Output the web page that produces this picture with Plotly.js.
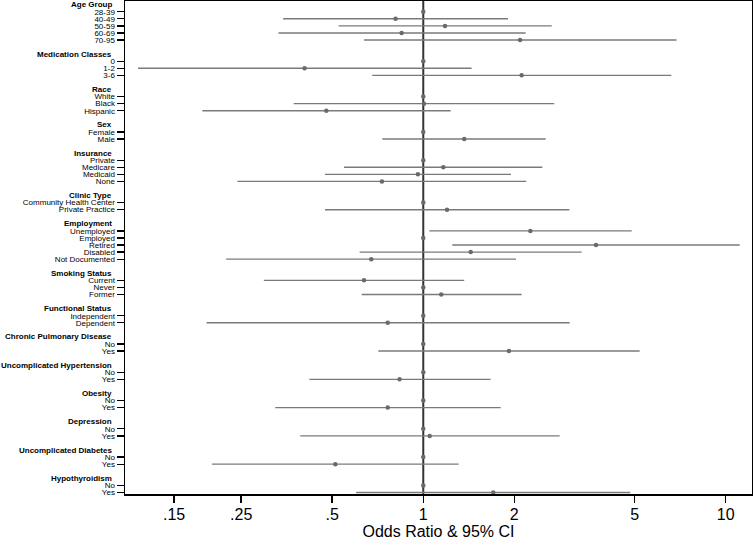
<!DOCTYPE html>
<html>
<head>
<meta charset="utf-8">
<script src="https://cdn.plot.ly/plotly-3.0.1.min.js"></script>
<style>html,body{margin:0;padding:0;background:#fff;}#chart{width:753px;height:543px;}</style>
</head>
<body>
<div id="chart"></div>
<script>
// ---- data ----
const groupNames = ["Age Group","Medication Classes","Race","Sex","Insurance","Clinic Type","Employment","Smoking Status","Functional Status","Chronic Pulmonary Disease","Uncomplicated Hypertension","Obesity","Depression","Uncomplicated Diabetes","Hypothyroidism"];
const groupSizes = [5,3,3,2,4,2,5,3,2,2,2,2,2,2,2];
const levelLabels = [
  "28-39","40-49","50-59","60-69","70-95",
  "0","1-2","3-6",
  "White","Black","Hispanic",
  "Female","Male",
  "Private","Medicare","Medicaid","None",
  "Community Health Center","Private Practice",
  "Unemployed","Employed","Retired","Disabled","Not Documented",
  "Current","Never","Former",
  "Independent","Dependent",
  "No","Yes",
  "No","Yes",
  "No","Yes",
  "No","Yes",
  "No","Yes",
  "No","Yes"
];
const oddsRatio = [
  1,0.81,1.18,0.848,2.09,
  1,0.405,2.115,
  1,1.005,0.478,
  1,1.366,
  1,1.165,0.96,0.73,
  1,1.198,
  2.26,1,3.725,1.435,0.673,
  0.637,1,1.147,
  1,0.763,
  1,1.92,
  1,0.835,
  1,0.763,
  1,1.05,
  1,0.512,
  1,1.704
];
const ciLower = [
  null,0.344,0.525,0.332,0.637,
  null,0.114,0.678,
  null,0.373,0.186,
  null,0.732,
  null,0.547,0.473,0.243,
  null,0.473,
  1.047,null,1.247,0.616,0.223,
  0.297,null,0.626,
  null,0.192,
  null,0.71,
  null,0.42,
  null,0.324,
  null,0.392,
  null,0.2,
  null,0.60
];
const ciUpper = [
  null,1.906,2.66,2.18,6.88,
  null,1.445,6.61,
  null,2.71,1.232,
  null,2.54,
  null,2.475,1.95,2.19,
  null,3.04,
  4.89,null,11.13,3.34,2.026,
  1.366,null,2.115,
  null,3.05,
  null,5.195,
  null,1.67,
  null,1.803,
  null,2.825,
  null,1.309,
  null,4.836
];
const xTickVals = [0.15,0.25,0.5,1,2,5,10];
const xTickText = [".15",".25",".5","1","2","5","10"];

// ---- row layout ----
const headerRows = [];
const levelRows = [];
let row = 0;
groupSizes.forEach((n) => {
  headerRows.push(row); row++;
  for (let i = 0; i < n; i++) { levelRows.push(row); row++; }
  row++;
});

const plus = oddsRatio.map((v,i) => ciUpper[i] == null ? 0 : ciUpper[i] - v);
const minus = oddsRatio.map((v,i) => ciLower[i] == null ? 0 : v - ciLower[i]);

const FONT = "Liberation Sans, Arial, Helvetica, sans-serif";

const trace = {
  type: "scatter", mode: "markers",
  x: oddsRatio, y: levelRows,
  marker: {size: 4.5, color: "#6a6a6a"},
  error_x: {type: "data", symmetric: false, array: plus, arrayminus: minus,
            width: 0, thickness: 1.4, color: "#7a7a7a"},
  hoverinfo: "x+y", showlegend: false, cliponaxis: false
};

const annotations = groupNames.map((g,i) => ({
  text: "<b>" + g + "</b>", xref: "paper", yref: "y", x: 0, y: headerRows[i],
  xanchor: "right", yanchor: "middle", xshift: -11, showarrow: false,
  font: {family: FONT, size: 8, color: "#000"}
}));

const layout = {
  width: 753, height: 543,
  margin: {l: 125, r: 1, t: 1, b: 49},
  paper_bgcolor: "#fff", plot_bgcolor: "#fff",
  font: {family: FONT, color: "#000"},
  xaxis: {
    type: "log", range: [Math.log10(0.1032), Math.log10(12.22)],
    tickmode: "array", tickvals: xTickVals, ticktext: xTickText,
    ticks: "outside", ticklen: 7, tickwidth: 1.5, tickcolor: "#000",
    ticklabelstandoff: -2,
    tickfont: {family: FONT, size: 16, color: "#000"},
    showgrid: false, zeroline: false,
    showline: true, mirror: true, linecolor: "#000", linewidth: 1.5,
    title: {text: "Odds Ratio & 95% CI", font: {family: FONT, size: 16, color: "#000"}, standoff: 1},
    automargin: false, fixedrange: true
  },
  yaxis: {
    range: [69.22, -0.52],
    tickmode: "array", tickvals: levelRows, ticktext: levelLabels,
    ticks: "outside", ticklen: 7, tickwidth: 1.3, tickcolor: "#000",
    tickfont: {family: FONT, size: 8, color: "#000"},
    showgrid: false, zeroline: false,
    showline: true, mirror: true, linecolor: "#000", linewidth: 1.5,
    automargin: false, fixedrange: true
  },
  shapes: [{type: "line", xref: "x", yref: "paper", x0: 1, x1: 1, y0: 0, y1: 1,
            line: {color: "#333", width: 2}, layer: "below"}],
  annotations: annotations
};

Plotly.newPlot("chart", [trace], layout, {displayModeBar: false, staticPlot: true});
</script>
</body>
</html>
